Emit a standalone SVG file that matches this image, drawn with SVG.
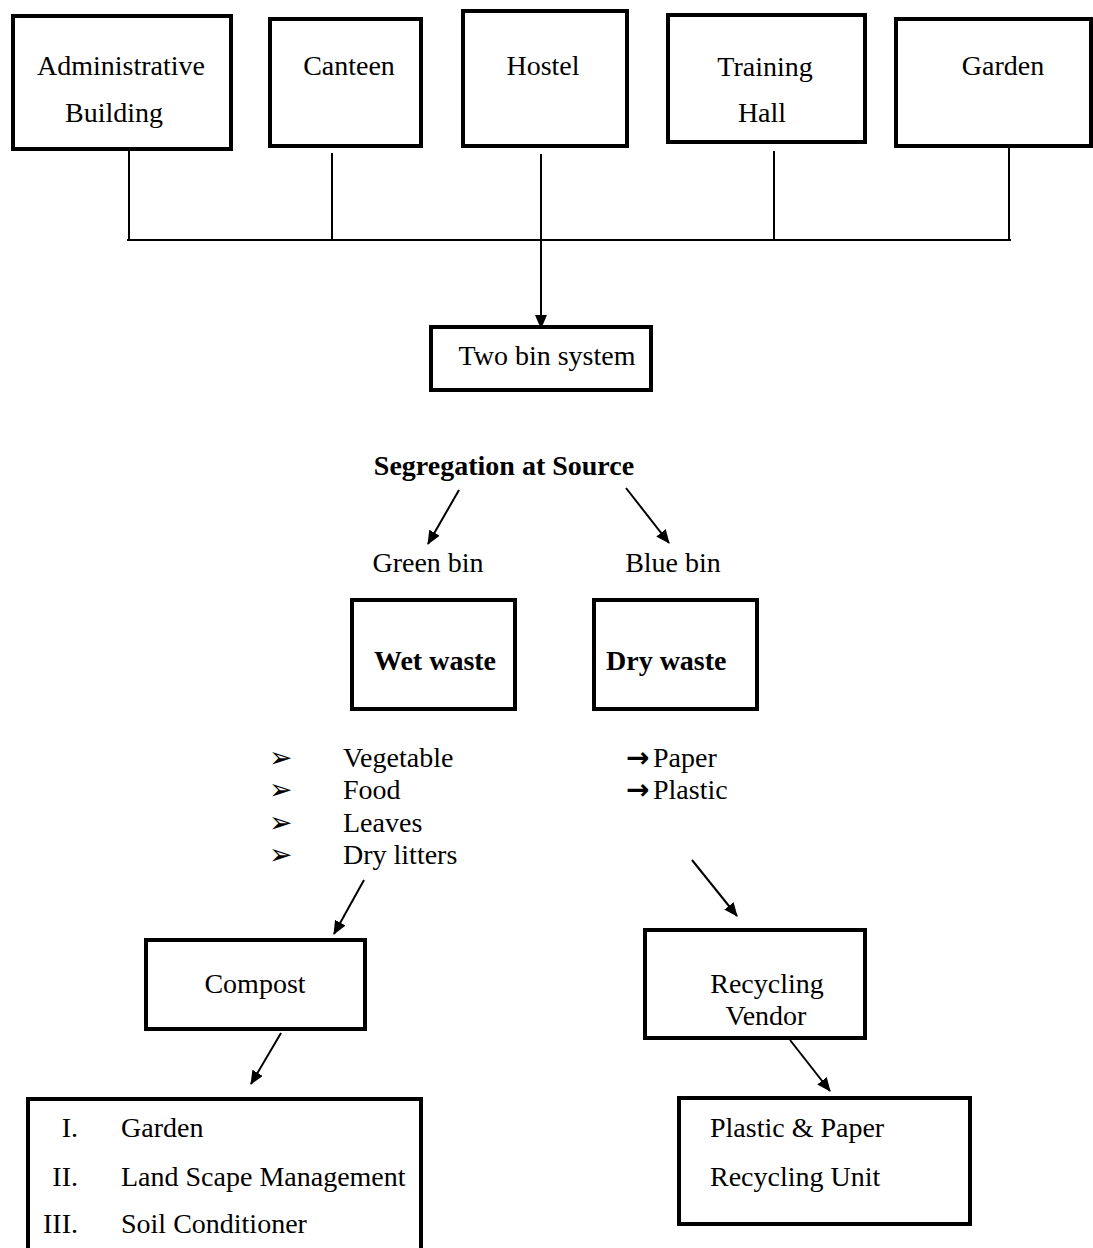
<svg xmlns="http://www.w3.org/2000/svg" width="1093" height="1248" viewBox="0 0 1093 1248">
<style>
.box{fill:#fff;stroke:#000;stroke-width:4}
.t{font-family:"Liberation Serif","Times New Roman",serif;font-size:28px;fill:#000}
.c{text-anchor:middle}
.b{font-weight:bold}
.e{text-anchor:end}
.ln{stroke:#000;stroke-width:2;fill:none}
.ar{stroke:#000;stroke-width:2;fill:none;marker-end:url(#ah)}
.bul{font-family:"DejaVu Sans",sans-serif;font-size:28px;fill:#000}
.arr{font-family:"DejaVu Sans",sans-serif;font-size:28px;font-weight:bold}
</style>
<defs>
<marker id="ah" viewBox="0 0 14 12" refX="13" refY="6" markerWidth="14" markerHeight="12" markerUnits="userSpaceOnUse" orient="auto">
<path d="M0,0 L14,6 L0,12 Z" fill="#000"/>
</marker>
</defs>
<rect width="1093" height="1248" fill="#fff"/>
<g id="connectors">
<line class="ln" x1="129" y1="149" x2="129" y2="240"/>
<line class="ln" x1="332" y1="153" x2="332" y2="240"/>
<line class="ln" x1="774" y1="151" x2="774" y2="240"/>
<line class="ln" x1="1009" y1="146" x2="1009" y2="240"/>
<line class="ln" x1="127" y1="240" x2="1011" y2="240"/>
<line class="ar" x1="541" y1="154" x2="541" y2="328"/>
<line class="ar" x1="459" y1="490" x2="428" y2="544"/>
<line class="ar" x1="626" y1="488" x2="669" y2="543"/>
<line class="ar" x1="364" y1="880" x2="334" y2="934"/>
<line class="ar" x1="692" y1="860" x2="737" y2="916"/>
<line class="ar" x1="281" y1="1033" x2="251" y2="1084"/>
<line class="ar" x1="790" y1="1040" x2="830" y2="1091"/>
</g>
<g id="admin"><rect class="box" x="13" y="16" width="218" height="133"/><text class="t c" x="121" y="75">Administrative</text><text class="t c" x="114" y="122">Building</text></g>
<g id="canteen"><rect class="box" x="270" y="19" width="151" height="127"/><text class="t c" x="349" y="75">Canteen</text></g>
<g id="hostel"><rect class="box" x="463" y="11" width="164" height="135"/><text class="t c" x="543" y="75">Hostel</text></g>
<g id="training"><rect class="box" x="668" y="15" width="197" height="127"/><text class="t c" x="765" y="76">Training</text><text class="t c" x="762" y="122">Hall</text></g>
<g id="garden"><rect class="box" x="896" y="19" width="195" height="127"/><text class="t c" x="1003" y="75">Garden</text></g>
<g id="twobin"><rect class="box" x="431" y="327" width="220" height="63"/><text class="t c" x="547" y="365">Two bin system</text></g>
<g id="segregation"><text class="t c b" x="504" y="475">Segregation at Source</text></g>
<g id="greenbin"><text class="t c" x="428" y="572">Green bin</text></g>
<g id="bluebin"><text class="t c" x="673" y="572">Blue bin</text></g>
<g id="wet"><rect class="box" x="352" y="600" width="163" height="109"/><text class="t c b" x="435" y="670">Wet waste</text></g>
<g id="dry"><rect class="box" x="594" y="600" width="163" height="109"/><text class="t b" x="606" y="670">Dry waste</text></g>
<g id="wetlist">
<text class="bul" x="269" y="767">➢</text><text class="t" x="343" y="767">Vegetable</text>
<text class="bul" x="269" y="799">➢</text><text class="t" x="343" y="799">Food</text>
<text class="bul" x="269" y="832">➢</text><text class="t" x="343" y="832">Leaves</text>
<text class="bul" x="269" y="864">➢</text><text class="t" x="343" y="864">Dry litters</text>
</g>
<g id="drylist">
<text class="t" x="626" y="767"><tspan class="arr">→</tspan><tspan x="653">Paper</tspan></text>
<text class="t" x="626" y="799"><tspan class="arr">→</tspan><tspan x="653">Plastic</tspan></text>
</g>
<g id="compost"><rect class="box" x="146" y="940" width="219" height="89"/><text class="t c" x="255" y="993">Compost</text></g>
<g id="uses"><rect class="box" x="28" y="1099" width="393" height="160"/>
<text class="t e" x="78" y="1137">I.</text><text class="t" x="121" y="1137">Garden</text>
<text class="t e" x="78" y="1186">II.</text><text class="t" x="121" y="1186">Land Scape Management</text>
<text class="t e" x="78" y="1233">III.</text><text class="t" x="121" y="1233">Soil Conditioner</text>
</g>
<g id="vendor"><rect class="box" x="645" y="930" width="220" height="108"/><text class="t c" x="767" y="993">Recycling</text><text class="t c" x="766" y="1025">Vendor</text></g>
<g id="unit"><rect class="box" x="679" y="1098" width="291" height="126"/><text class="t" x="710" y="1137">Plastic &amp; Paper</text><text class="t" x="710" y="1186">Recycling Unit</text></g>
</svg>
